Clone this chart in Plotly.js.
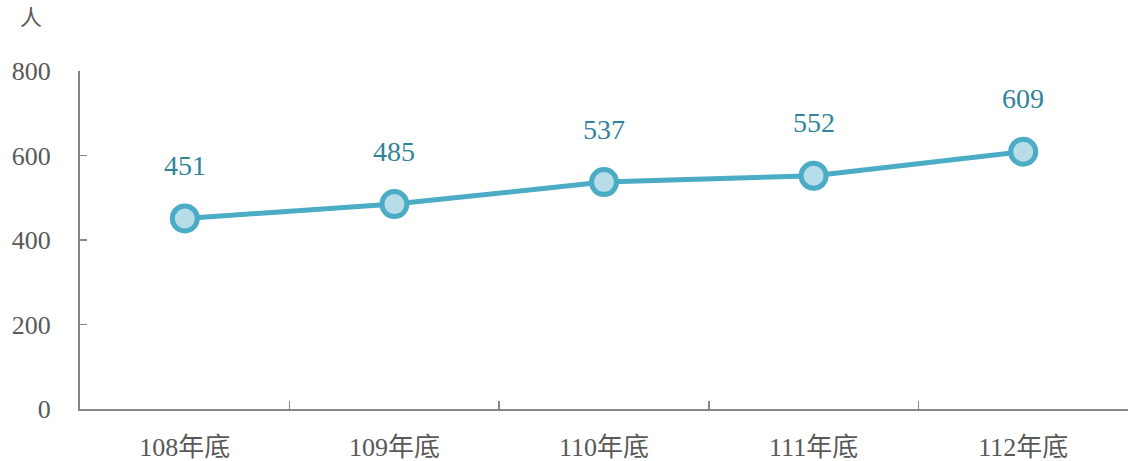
<!DOCTYPE html>
<html><head><meta charset="utf-8">
<script src="https://cdn.plot.ly/plotly-3.0.1.min.js"></script>
<style>html,body{margin:0;padding:0;background:#fff}#c{width:1128px;height:461px}</style>
</head><body><div id="c"></div>
<script>
const categories = ["108年底","109年底","110年底","111年底","112年底"];
const values = [451, 485, 537, 552, 609];
const yTicks = [0, 200, 400, 600, 800];
const unitLabel = "人";

const fontFam = '"Liberation Serif", "Noto Sans CJK TC", serif';
const trace = {
  x: categories, y: values, type: 'scatter', mode: 'lines+markers',
  line: {color: '#4bacc6', width: 5},
  marker: {size: 25, color: '#b7dde8', line: {color: '#4bacc6', width: 5}},
  hoverinfo: 'none', cliponaxis: false
};
const annotations = categories.map((c, i) => ({
  x: c, y: values[i], xref: 'x', yref: 'y', text: String(values[i]),
  showarrow: false, yshift: 53, font: {family: fontFam, size: 28, color: '#31849b'}
}));
annotations.push({xref: 'paper', yref: 'paper', x: -0.047, y: 1.165, xanchor: 'center', yanchor: 'middle',
  text: unitLabel, showarrow: false, font: {family: '"Noto Sans CJK TC", serif', size: 22, color: '#595959'}});
const layout = {
  width: 1128, height: 461, margin: {l: 80, r: 0, t: 71, b: 52},
  paper_bgcolor: '#fff', plot_bgcolor: '#fff', showlegend: false,
  font: {family: fontFam, color: '#595959'},
  xaxis: {type: 'category', range: [-0.5, 4.5], showline: true, linecolor: '#868686', linewidth: 2,
    ticks: 'inside', tickson: 'boundaries', ticklen: 8, tickcolor: '#868686', tickwidth: 1.5,
    showgrid: false, zeroline: false, ticklabelstandoff: 14,
    tickfont: {size: 26, color: '#595959', family: fontFam}},
  yaxis: {range: [0, 800], tickvals: yTicks, showline: true, linecolor: '#868686', linewidth: 2,
    ticks: 'inside', ticklen: 7, tickcolor: '#868686', tickwidth: 1.5, showgrid: false, zeroline: false,
    ticklabelstandoff: 22, tickfont: {size: 26, color: '#595959', family: fontFam}},
  annotations: annotations
};
Plotly.newPlot('c', [trace], layout, {staticPlot: true, displayModeBar: false});
</script></body></html>
